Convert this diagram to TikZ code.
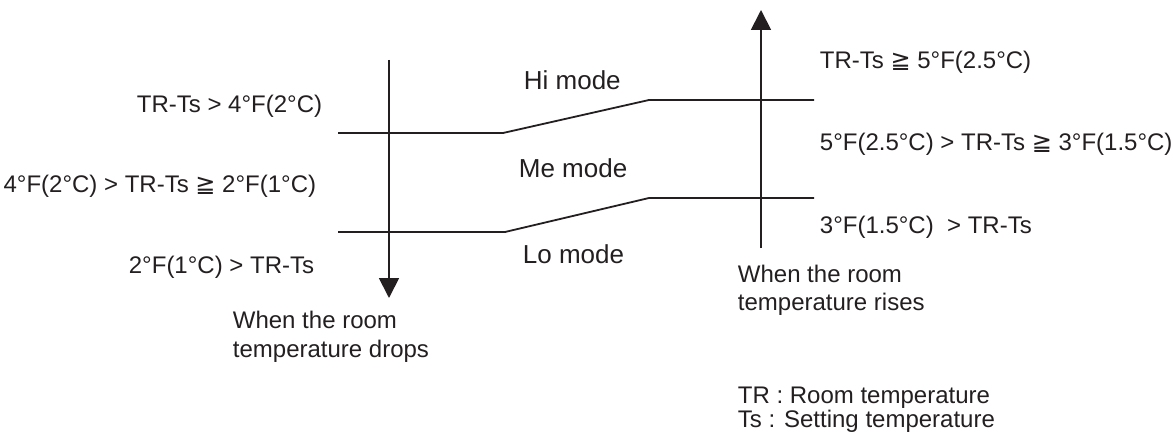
\documentclass[tikz,border=0pt]{standalone}
\usepackage{fontspec}
\setmainfont{Liberation Sans}
\newfontfamily\dvfont{DejaVu Sans}
\usetikzlibrary{arrows.meta}
\definecolor{ink}{HTML}{231F20}
\newcommand{\gqq}{{\dvfont ≧}}
\begin{document}
\begin{tikzpicture}[x=1pt,y=-1pt,line width=1.8pt,draw=ink,
  lbl/.style={inner sep=0pt,font=\fontsize{24}{28}\selectfont,text=ink},
  modelbl/.style={inner sep=0pt,font=\fontsize{26}{30}\selectfont,text=ink},
  arr/.style={-{Triangle[width=20pt,length=20pt]}},
  level/.style={line join=miter}]
\useasboundingbox (0,0) rectangle (1173,436);
% coordinates
\coordinate (dTop) at (389,60);
\coordinate (dBot) at (389,298);
\coordinate (uBot) at (761,248);
\coordinate (uTop) at (761,10);
\coordinate (a1) at (338,133);
\coordinate (a2) at (503,133);
\coordinate (a3) at (649,100);
\coordinate (a4) at (814,100);
\coordinate (b1) at (338,232);
\coordinate (b2) at (505,232);
\coordinate (b3) at (649,198);
\coordinate (b4) at (814,198);
% level lines
\draw[level] (a1) -- (a2) -- (a3) -- (a4);
\draw[level] (b1) -- (b2) -- (b3) -- (b4);
% arrows
\draw[arr] (dTop) -- (dBot);
\draw[arr] (uBot) -- (uTop);
% left conditions
\node[lbl,anchor=base east] (c1) at (323,112) {TR-Ts > 4°F(2°C)};
\node[lbl,anchor=base east] (c2) at (317,192) {4°F(2°C) > TR-Ts \gqq{} 2°F(1°C)};
\node[lbl,anchor=base east] (c3) at (315,273) {2°F(1°C) > TR-Ts};
% modes
\node[modelbl,anchor=base west] (hi) at (523,89) {Hi mode};
\node[modelbl,anchor=base west] (me) at (518,177) {Me mode};
\node[modelbl,anchor=base west] (lo) at (522,263) {Lo mode};
% right conditions
\node[lbl,anchor=base west] (r1) at (819,69) {TR-Ts \gqq{} 5°F(2.5°C)};
\node[lbl,anchor=base west] (r2) at (819,150) {5°F(2.5°C) > TR-Ts \gqq{} 3°F(1.5°C)};
\node[lbl,anchor=base west] (r3) at (819,233) {3°F(1.5°C)\ \ > TR-Ts};
% arrow captions
\node[lbl,anchor=base west] (dropA) at (232,328) {When the room};
\node[lbl,anchor=base west] (dropB) at (232,357) {temperature drops};
\node[lbl,anchor=base west] (riseA) at (737,282) {When the room};
\node[lbl,anchor=base west] (riseB) at (737,310) {temperature rises};
% legend
\node[lbl,anchor=base west] (legA) at (737,403) {TR : Room temperature};
\node[lbl,anchor=base west] (legB) at (737,427) {Ts : Setting temperature};
\end{tikzpicture}
\end{document}
